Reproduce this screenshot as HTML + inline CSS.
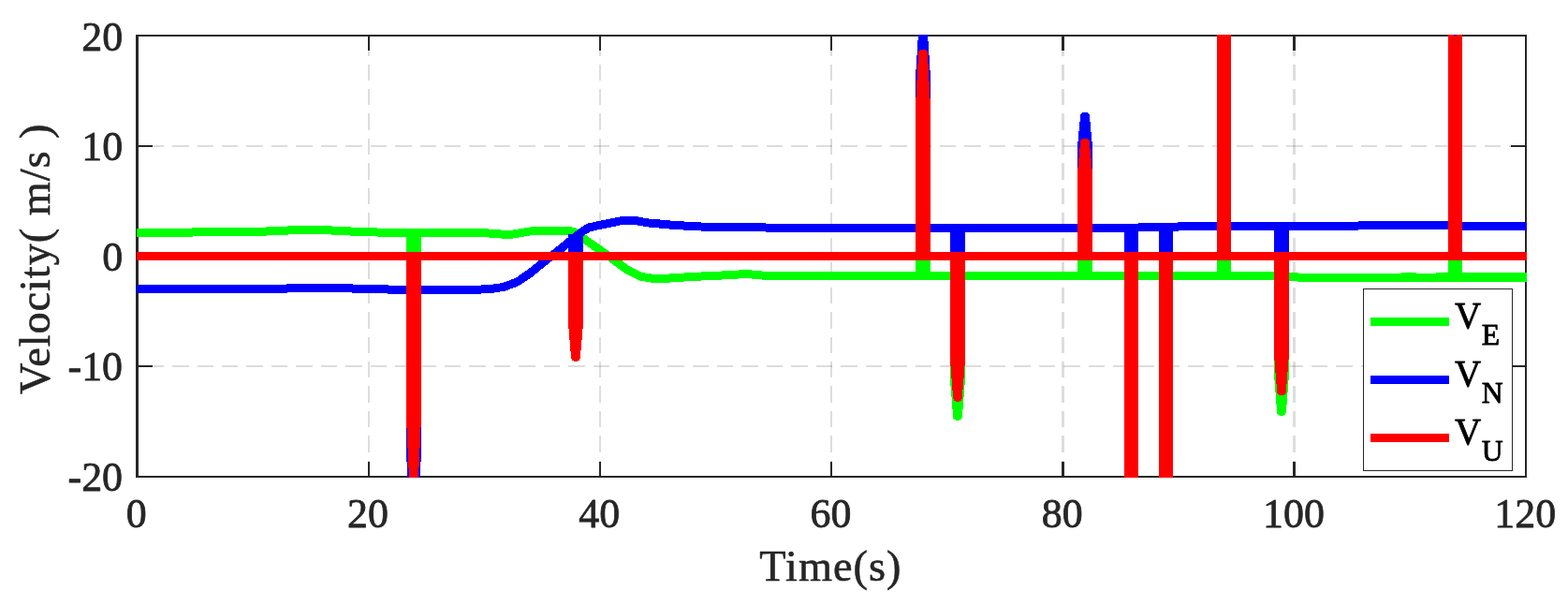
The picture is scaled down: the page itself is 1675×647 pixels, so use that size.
<!DOCTYPE html>
<html lang="en"><head><meta charset="utf-8"><title>Velocity</title>
<style>html,body{margin:0;padding:0;background:#fff}body{width:1675px;height:647px;overflow:hidden}svg{display:block}</style></head>
<body>
<svg width="1675" height="647" viewBox="0 0 1675 647">
<rect width="1675" height="647" fill="#fff"/>
<defs><clipPath id="ax"><rect x="145" y="37" width="1486" height="473"/></clipPath><clipPath id="gr"><rect x="148" y="39" width="1481" height="469"/></clipPath></defs>
<g clip-path="url(#gr)" stroke="#262626" stroke-opacity="0.155" fill="none" shape-rendering="crispEdges" stroke-dasharray="17.45 9">
<path d="M394.0,15.65 V508" stroke-width="2"/>
<path d="M641.0,15.65 V508" stroke-width="2"/>
<path d="M888.0,15.65 V508" stroke-width="2"/>
<path d="M1135.5,15.65 V508" stroke-width="3"/>
<path d="M1382.5,15.65 V508" stroke-width="3"/>
<path d="M131.15,156.0 H1629" stroke-width="2"/>
<path d="M131.15,274.0 H1629" stroke-width="2"/>
<path d="M131.15,391.0 H1629" stroke-width="2"/>
</g>
<g fill="#262626" shape-rendering="crispEdges">
<rect x="145" y="37" width="3" height="473"/>
<rect x="1629" y="37" width="2" height="473"/>
<rect x="145" y="37" width="1486" height="2"/>
<rect x="145" y="508" width="1486" height="2"/>
<rect x="393" y="39" width="2" height="15"/>
<rect x="393" y="493" width="2" height="15"/>
<rect x="640" y="39" width="2" height="15"/>
<rect x="640" y="493" width="2" height="15"/>
<rect x="887" y="39" width="2" height="15"/>
<rect x="887" y="493" width="2" height="15"/>
<rect x="1134" y="39" width="3" height="15"/>
<rect x="1134" y="493" width="3" height="15"/>
<rect x="1381" y="39" width="3" height="15"/>
<rect x="1381" y="493" width="3" height="15"/>
<rect x="148" y="155" width="15" height="2"/>
<rect x="1614" y="155" width="15" height="2"/>
<rect x="148" y="273" width="15" height="2"/>
<rect x="1614" y="273" width="15" height="2"/>
<rect x="148" y="390" width="15" height="2"/>
<rect x="1614" y="390" width="15" height="2"/>
</g>
<g clip-path="url(#ax)" fill="none" stroke-width="9" stroke-linejoin="round" stroke-linecap="butt" shape-rendering="crispEdges">
<g stroke="#00ff00">
<path d="M146.0,248.5 L203.0,248.5 L208.0,247.5 L282.0,247.5 L287.0,246.5 L305.0,246.5 L310.0,245.5 L352.0,245.5 L357.0,246.5 L372.0,246.5 L377.0,247.5 L395.0,247.5 L411.0,248.5 L450.0,248.6 L462.0,249.0 L475.0,248.5 L518.0,248.7 L535.0,250.0 L548.0,250.0 L557.0,248.5 L566.0,247.0 L578.0,246.3 L585.0,246.0 L604.0,246.0 L613.0,247.3 L624.0,255.2 L649.0,272.4 L670.0,288.2 L685.0,295.4 L702.0,298.0 L721.0,296.6 L749.0,295.0 L778.0,293.7 L797.0,292.5 L814.0,294.0 L836.0,295.0 L860.0,294.4 L1100.0,294.5 L1361.0,294.5 L1377.0,295.0 L1390.0,296.4 L1631.5,296.4"/>
<path d="M438.5,248.5 L438.5,273.5 L445.5,273.5 L445.5,248.5"/>
<path d="M982.5,294.4 L982.5,273.5 L989.5,273.5 L989.5,294.4"/>
<path d="M1155.5,294.4 L1155.5,273.5 L1162.5,273.5 L1162.5,294.4"/>
<path d="M1304.5,294.4 L1304.5,273.5 L1310.5,273.5 L1310.5,294.4"/>
<path d="M1551.5,296.4 L1551.5,273.5 L1557.5,273.5 L1557.5,296.4"/>
<path d="M1497,295.5 H1513 M1534,295.5 H1631.5"/>
<path d="M1019.5,273.5 L1019.5,404.9 L1022.6,444.4 L1023.4,444.4 L1026.5,404.9 L1026.5,273.5"/>
<path d="M1365.5,273.5 L1365.5,399.4 L1368.6,439.4 L1369.4,439.4 L1372.5,399.4 L1372.5,273.5"/>
</g>
<g stroke="#0000ff">
<path d="M146.0,308.5 L304.0,308.5 L309.0,307.5 L374.0,307.5 L379.0,308.5 L411.0,308.5 L416.0,309.3 L512.0,309.1 L524.0,308.6 L538.0,306.4 L552.5,301.0 L567.0,291.1 L581.0,279.6 L596.0,268.1 L610.0,256.6 L623.0,246.6 L629.0,243.0 L642.0,240.1 L663.0,235.8 L677.5,235.3 L692.0,237.9 L721.0,240.5 L749.0,242.0 L807.0,242.0 L821.0,243.3 L860.0,243.5 L1031.0,243.5 L1210.0,243.5 L1222.0,242.5 L1255.0,242.5 L1262.0,241.5 L1340.0,241.5 L1361.0,241.5 L1377.0,241.5 L1400.0,241.4 L1440.0,241.4 L1462.0,240.6 L1545.0,240.6 L1562.0,241.5 L1631.5,241.5"/>
<path d="M611.5,250.0 L611.5,273.5 L618.5,273.5 L618.5,250.0"/>
<path d="M1019.5,243.4 L1019.5,273.5 L1026.5,273.5 L1026.5,243.4"/>
<path d="M1205.5,243.0 L1205.5,273.5 L1211.5,273.5 L1211.5,243.0"/>
<path d="M1242.5,242.0 L1242.5,273.5 L1248.5,273.5 L1248.5,242.0"/>
<path d="M1365.5,241.5 L1365.5,273.5 L1372.5,273.5 L1372.5,241.5"/>
<path d="M438.5,273.5 L438.5,482.0 L441.6,548.0 L442.4,548.0 L445.5,482.0 L445.5,273.5"/>
<path d="M982.5,273.5 L982.5,82.5 L985.6,34.5 L986.4,34.5 L989.5,82.5 L989.5,273.5"/>
<path d="M1155.5,273.5 L1155.5,156.2 L1158.6,124.2 L1159.4,124.2 L1162.5,156.2 L1162.5,273.5"/>
<path d="M1551.5,273.5 L1551.5,71.3 L1554.1,41.3 L1554.9,41.3 L1557.5,71.3 L1557.5,273.5"/>
</g>
<g stroke="#ff0000">
<path d="M146.0,273.5 L1631.5,273.5"/>
<path d="M438.5,273.5 L438.5,446.0 L441.6,512.0 L442.4,512.0 L445.5,446.0 L445.5,273.5"/>
<path d="M611.5,273.5 L611.5,345.3 L614.6,381.3 L615.4,381.3 L618.5,345.3 L618.5,273.5"/>
<path d="M982.5,273.5 L982.5,114.0 L985.6,57.4 L986.4,57.4 L989.5,114.0 L989.5,273.5"/>
<path d="M1019.5,273.5 L1019.5,384.2 L1022.6,424.2 L1023.4,424.2 L1026.5,384.2 L1026.5,273.5"/>
<path d="M1155.5,273.5 L1155.5,185.0 L1158.6,152.4 L1159.4,152.4 L1162.5,185.0 L1162.5,273.5"/>
<path d="M1205.5,273.5 L1205.5,690.0 L1208.1,700.0 L1208.9,700.0 L1211.5,690.0 L1211.5,273.5"/>
<path d="M1242.5,273.5 L1242.5,690.0 L1245.1,700.0 L1245.9,700.0 L1248.5,690.0 L1248.5,273.5"/>
<path d="M1304.5,273.5 L1304.5,-190.0 L1307.1,-200.0 L1307.9,-200.0 L1310.5,-190.0 L1310.5,273.5"/>
<path d="M1365.5,273.5 L1365.5,378.0 L1368.6,417.6 L1369.4,417.6 L1372.5,378.0 L1372.5,273.5"/>
<path d="M1551.5,273.5 L1551.5,38.2 L1557.5,38.2 L1557.5,273.5"/>
</g>
<rect x="1553" y="37" width="3" height="1" fill="#0000ff" stroke="none"/>
</g>
<g shape-rendering="crispEdges">
<rect x="1456.5" y="308.5" width="159" height="194" fill="#fff" stroke="#262626" stroke-width="1"/>
<path d="M1464,343.5 H1548" stroke="#00ff00" stroke-width="9" fill="none"/>
<path d="M1464,405.5 H1548" stroke="#0000ff" stroke-width="9" fill="none"/>
<path d="M1464,467.5 H1548" stroke="#ff0000" stroke-width="9" fill="none"/>
</g>
<g font-family='"Liberation Serif", "DejaVu Serif", serif' fill="#262626" stroke="#262626" stroke-width="0.8" stroke-linejoin="round">
<text transform="translate(131.1,53.5) scale(0.985,0.985)" font-size="44.6" text-anchor="end">20</text>
<text transform="translate(131.1,171.0) scale(0.985,0.985)" font-size="44.6" text-anchor="end">10</text>
<text transform="translate(131.1,288.5) scale(0.985,0.985)" font-size="44.6" text-anchor="end">0</text>
<text transform="translate(131.1,406.0) scale(0.985,0.985)" font-size="44.6" text-anchor="end">-10</text>
<text transform="translate(131.1,523.5) scale(0.985,0.985)" font-size="44.6" text-anchor="end">-20</text>
<text transform="translate(145.7,563.3) scale(0.985,0.985)" font-size="44.6" text-anchor="middle">0</text>
<text transform="translate(392.9,563.3) scale(0.985,0.985)" font-size="44.6" text-anchor="middle">20</text>
<text transform="translate(640.2,563.3) scale(0.985,0.985)" font-size="44.6" text-anchor="middle">40</text>
<text transform="translate(887.5,563.3) scale(0.985,0.985)" font-size="44.6" text-anchor="middle">60</text>
<text transform="translate(1134.7,563.3) scale(0.985,0.985)" font-size="44.6" text-anchor="middle">80</text>
<text transform="translate(1382.0,563.3) scale(0.985,0.985)" font-size="44.6" text-anchor="middle">100</text>
<text transform="translate(1629.2,563.3) scale(0.985,0.985)" font-size="44.6" text-anchor="middle">120</text>
</g>
<g font-family='"Liberation Serif", "DejaVu Serif", serif' fill="#262626" stroke="#262626" stroke-width="0.6" stroke-linejoin="round">
<text transform="translate(887.4,620.3) scale(1.0005,1)" font-size="46.3" letter-spacing="1.02" text-anchor="middle">Time(s)</text>
<text transform="translate(53.3,276.4) rotate(-90)" font-size="46.3" letter-spacing="0.95" text-anchor="middle">Velocity( m/s )</text>
</g>
<g font-family='"Liberation Serif", "DejaVu Serif", serif' fill="#000" stroke="#000" stroke-width="0.8" stroke-linejoin="round">
<text x="1554" y="350.1" font-size="39">V<tspan font-size="31.7" dy="18.3" dx="0.6">E</tspan></text>
<text x="1554" y="412.1" font-size="39">V<tspan font-size="31.7" dy="18.3" dx="0.6">N</tspan></text>
<text x="1554" y="474.1" font-size="39">V<tspan font-size="31.7" dy="18.3" dx="0.6">U</tspan></text>
</g>
</svg>
</body></html>
